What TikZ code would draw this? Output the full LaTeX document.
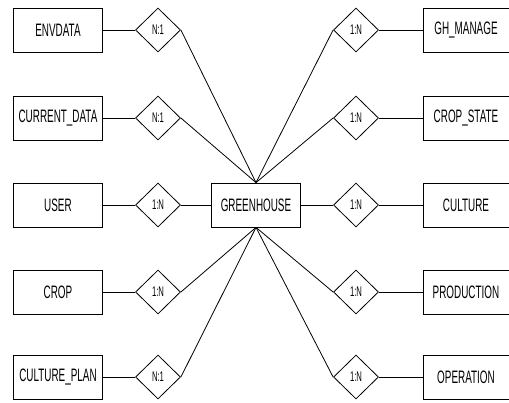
\documentclass[tikz,border=0pt]{standalone}
\usepackage{fontspec}
\setmainfont{Liberation Sans}[FakeStretch=0.55]
\usetikzlibrary{shapes.geometric}

\begin{document}
\begin{tikzpicture}[x=1pt,y=-1pt,line width=0.8pt,
  entity/.style={draw,rectangle,minimum width=89pt,minimum height=44pt,inner sep=0pt,
    font=\fontsize{18}{20}\selectfont},
  rel/.style={draw,diamond,minimum width=45pt,minimum height=44pt,inner sep=0pt,
    font=\fontsize{14}{16}\selectfont}]
  % picture frame, pixel units
  \useasboundingbox (0,0) rectangle (509,402);

  % central entity
  \node[entity] (gh) at (256,205) {GREENHOUSE};

  % entities on the left
  \node[entity] (envdata) at (58,30)  {ENVDATA};
  \node[entity] (curdata) at (58,118) {CURRENT\_DATA};
  \node[entity] (user)    at (58,205) {USER};
  \node[entity] (crop)    at (58,292) {CROP};
  \node[entity] (plan)    at (58,377) {CULTURE\_PLAN};

  % relations on the left
  \node[rel] (envrel)  at (158,30)  {N:1};
  \node[rel] (currel)  at (158,118) {N:1};
  \node[rel] (userrel) at (158,205) {1:N};
  \node[rel] (croprel) at (158,292) {1:N};
  \node[rel] (planrel) at (158,377) {N:1};

  % entities on the right
  \node[entity,minimum width=86pt] (manage)  at (466,30)  {GH\_MANAGE};
  \node[entity,minimum width=86pt] (state)   at (466,118) {CROP\_STATE};
  \node[entity,minimum width=86pt] (culture) at (466,205) {CULTURE};
  \node[entity,minimum width=86pt] (prod)    at (466,292) {PRODUCTION};
  \node[entity,minimum width=86pt] (oper)    at (466,377) {OPERATION};

  % relations on the right
  \node[rel] (managerel)  at (356,30)  {1:N};
  \node[rel] (staterel)   at (356,118) {1:N};
  \node[rel] (culturerel) at (356,205) {1:N};
  \node[rel] (prodrel)    at (356,292) {1:N};
  \node[rel] (operrel)    at (356,377) {1:N};

  % entity to relation
  \draw (envdata) -- (envrel);
  \draw (curdata) -- (currel);
  \draw (user) -- (userrel);
  \draw (crop) -- (croprel);
  \draw (plan) -- (planrel);
  \draw (managerel) -- (manage);
  \draw (staterel) -- (state);
  \draw (culturerel) -- (culture);
  \draw (prodrel) -- (prod);
  \draw (operrel) -- (oper);

  % relation to greenhouse
  \draw (envrel.east) -- (gh.north);
  \draw (currel.east) -- (gh.north);
  \draw (userrel) -- (gh);
  \draw (croprel.east) -- (gh.south);
  \draw (planrel.east) -- (gh.south);
  \draw (managerel.west) -- (gh.north);
  \draw (staterel.west) -- (gh.north);
  \draw (culturerel) -- (gh);
  \draw (prodrel.west) -- (gh.south);
  \draw (operrel.west) -- (gh.south);
\end{tikzpicture}
\end{document}
